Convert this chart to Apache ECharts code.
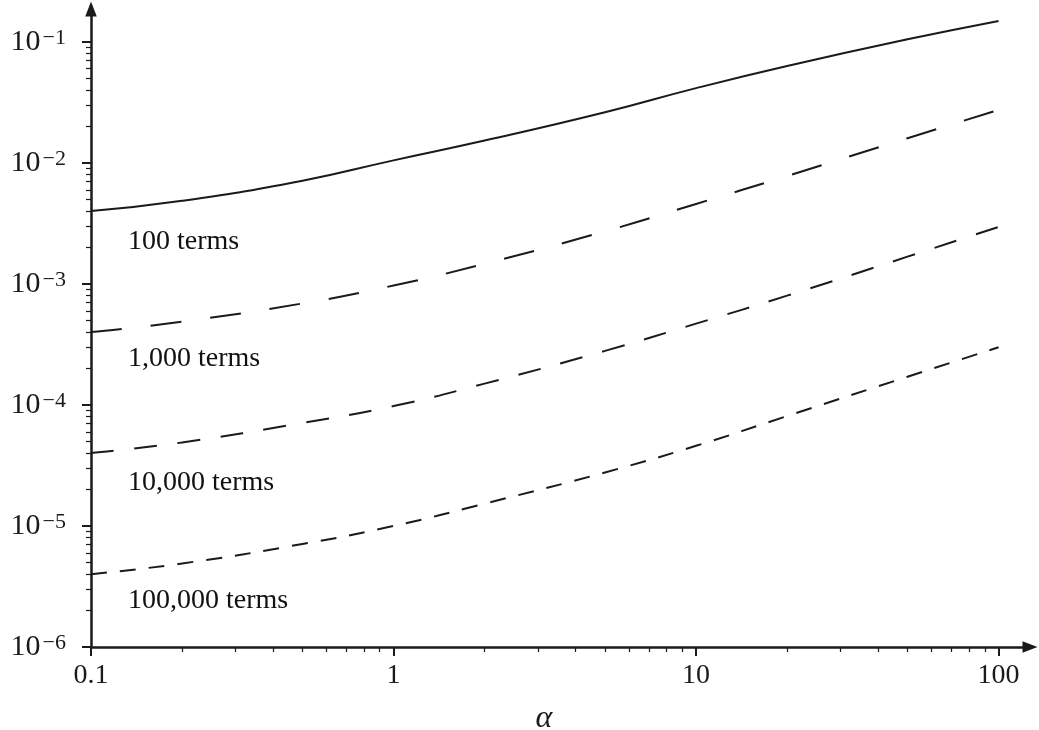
<!DOCTYPE html>
<html>
<head>
<meta charset="utf-8">
<script src="https://cdn.jsdelivr.net/npm/echarts@6/dist/echarts.min.js"></script>
<style>
  html, body { margin: 0; padding: 0; background: #ffffff; }
  #chart { width: 1039px; height: 730px; }
</style>
</head>
<body>
<div id="chart"></div>
<script>
// Truncation error against alpha for partial sums of different lengths
const alpha = [0.1, 0.2, 0.5, 1, 2, 5, 10, 20, 50, 100];
const terms100 = [4.0e-3, 4.86e-3, 7.13e-3, 1.05e-2, 1.53e-2, 2.62e-2, 4.15e-2, 6.32e-2, 1.05e-1, 1.49e-1];
const terms1000 = [4.0e-4, 4.88e-4, 6.9e-4, 9.7e-4, 1.47e-3, 2.72e-3, 4.58e-3, 7.8e-3, 1.6e-2, 2.74e-2];
const terms10000 = [4.0e-5, 4.9e-5, 7.1e-5, 9.8e-5, 1.5e-4, 2.8e-4, 4.7e-4, 8.0e-4, 1.68e-3, 2.96e-3];
const terms100000 = [4.0e-6, 4.9e-6, 7.1e-6, 1.0e-5, 1.53e-5, 2.77e-5, 4.6e-5, 8.1e-5, 1.71e-4, 3.0e-4];
const curveNames = ['100 terms', '1,000 terms', '10,000 terms', '100,000 terms'];
const xTicks = [0.1, 1, 10, 100];
const yTicks = [1e-6, 1e-5, 1e-4, 1e-3, 1e-2, 1e-1];

const INK = '#1a1a1a';
const TEXT = '#1a1a1a';
const SERIF = '"Liberation Serif", "DejaVu Serif", serif';
const ARROW = 'path://M5,0 L10,13 L0,13 Z';

function pairs(ys) {
  return alpha.map((a, i) => [a, ys[i]]);
}

function curve(name, ys, dash) {
  return {
    name: name,
    type: 'line',
    data: pairs(ys),
    smooth: 0.5,
    showSymbol: false,
    silent: true,
    clip: false,
    lineStyle: { color: INK, width: 2, type: dash }
  };
}

// Curve captions, placed in data space just right of the vertical axis
const captionAlpha = 0.1325;
const captionValues = [2.25e-3, 2.4e-4, 2.3e-5, 2.4e-6];

const chart = echarts.init(document.getElementById('chart'), null, { renderer: 'canvas' });

chart.setOption({
  backgroundColor: '#ffffff',
  animation: false,
  grid: { left: 91, right: 9, top: 9, bottom: 83, outerBoundsMode: 'none' },
  xAxis: {
    type: 'log',
    logBase: 10,
    min: 0.1,
    max: 127,
    interval: 1,
    name: 'α',
    nameLocation: 'middle',
    nameGap: 56,
    nameTextStyle: {
      fontFamily: SERIF, fontStyle: 'italic', fontSize: 32, color: TEXT,
      padding: [0, 33, 0, 0]
    },
    axisLine: {
      show: true, onZero: false,
      symbol: ['none', ARROW], symbolSize: [12, 15],
      lineStyle: { color: INK, width: 2.5 }
    },
    axisTick: {
      show: true, length: 9, customValues: xTicks,
      lineStyle: { color: INK, width: 2 }
    },
    minorTick: {
      show: true, splitNumber: 9, length: 5,
      lineStyle: { color: INK, width: 1.2 }
    },
    axisLabel: {
      customValues: xTicks,
      margin: 15,
      fontFamily: SERIF, fontSize: 28, color: TEXT,
      formatter: v => String(v)
    },
    splitLine: { show: false },
    minorSplitLine: { show: false }
  },
  yAxis: {
    type: 'log',
    logBase: 10,
    min: 1e-6,
    max: 0.187,
    interval: 1,
    axisLine: {
      show: true, onZero: false,
      symbol: ['none', ARROW], symbolSize: [12, 15],
      lineStyle: { color: INK, width: 2.5 }
    },
    axisTick: {
      show: true, length: 9, customValues: yTicks,
      lineStyle: { color: INK, width: 2 }
    },
    minorTick: {
      show: true, splitNumber: 9, length: 5,
      lineStyle: { color: INK, width: 1.2 }
    },
    axisLabel: {
      customValues: yTicks,
      margin: 25,
      formatter: v => '{b|10}{s|\u2212' + Math.round(-Math.log10(v)) + '}',
      rich: {
        b: { fontFamily: SERIF, fontSize: 30, color: TEXT, lineHeight: 30 },
        s: { fontFamily: SERIF, fontSize: 22, color: TEXT, lineHeight: 18, verticalAlign: 'top', padding: [0, 0, 0, 2] }
      }
    },
    splitLine: { show: false },
    minorSplitLine: { show: false }
  },
  series: [
    curve(curveNames[0], terms100, 'solid'),
    curve(curveNames[1], terms1000, [31, 29]),
    curve(curveNames[2], terms10000, [23, 20.5]),
    curve(curveNames[3], terms100000, [16, 13]),
    {
      type: 'scatter',
      silent: true,
      symbolSize: 0,
      data: curveNames.map((n, i) => [captionAlpha, captionValues[i], n]),
      label: {
        show: true,
        position: 'right',
        distance: 0,
        opacity: 1,
        formatter: p => p.data[2],
        fontFamily: SERIF, fontSize: 28, color: '#111111'
      }
    }
  ]
});
</script>
</body>
</html>
